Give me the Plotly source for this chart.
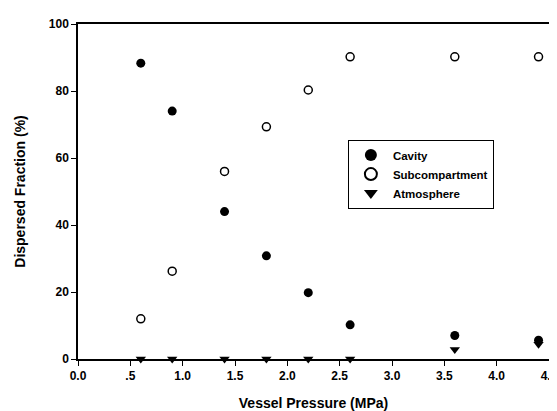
import plotly.graph_objects as go

pressure = [0.6, 0.9, 1.4, 1.8, 2.2, 2.6, 3.6, 4.4]
cavity = [88.3, 74.0, 44.0, 30.8, 19.8, 10.2, 7.0, 5.6]
subcompartment = [12.0, 26.2, 56.0, 69.3, 80.3, 90.2, 90.2, 90.2]
atmosphere = [0.0, 0.0, 0.0, 0.0, 0.0, 0.0, 2.8, 4.4]

x_ticks = [0.0, 0.5, 1.0, 1.5, 2.0, 2.5, 3.0, 3.5, 4.0, 4.5]
x_labels = ["0.0", ".5", "1.0", "1.5", "2.0", "2.5", "3.0", "3.5", "4.0", "4.5"]
y_ticks = [0, 20, 40, 60, 80, 100]

font = "Liberation Sans, Arial, sans-serif"

fig = go.Figure()
fig.add_trace(go.Scatter(x=pressure, y=cavity, mode="markers", name="Cavity",
                         marker=dict(symbol="circle", size=9, color="black")))
fig.add_trace(go.Scatter(x=pressure, y=subcompartment, mode="markers", name="Subcompartment",
                         marker=dict(symbol="circle-open", size=8, color="black",
                                     line=dict(width=1.5, color="black"))))
fig.add_trace(go.Scatter(x=pressure, y=atmosphere, mode="markers", name="Atmosphere",
                         marker=dict(symbol="triangle-down", size=9, color="black"),
                         cliponaxis=False))

tickfont = dict(family=font, size=12, color="black", weight="bold")
titlefont = dict(family=font, size=14, color="black", weight="bold")

fig.update_layout(
    width=557, height=411,
    margin=dict(l=70, r=7, t=16, b=60),
    paper_bgcolor="white", plot_bgcolor="white",
    font=dict(family=font, size=11, color="black"),
    showlegend=True,
    legend=dict(x=0.573, y=0.655, xanchor="left", yanchor="top",
                bordercolor="black", borderwidth=1, bgcolor="white",
                font=dict(family=font, size=11.5, color="black", weight="bold"),
                tracegroupgap=0, itemsizing="constant", itemwidth=34),
    xaxis=dict(range=[0, 4.5], tickvals=x_ticks, ticktext=x_labels,
               showgrid=False, zeroline=False, showline=True, linecolor="black",
               linewidth=1.5, mirror=True, ticks="outside", ticklen=5,
               tickcolor="black", tickfont=tickfont,
               title=dict(text="Vessel Pressure (MPa)", font=titlefont, standoff=16)),
    yaxis=dict(range=[0, 100], tickvals=y_ticks,
               showgrid=False, zeroline=False, showline=True, linecolor="black",
               linewidth=1.5, mirror=True, ticks="outside", ticklen=5,
               tickcolor="black", tickfont=tickfont,
               title=dict(text="Dispersed Fraction (%)", font=titlefont, standoff=20)),
)

fig.write_html("out.html")
